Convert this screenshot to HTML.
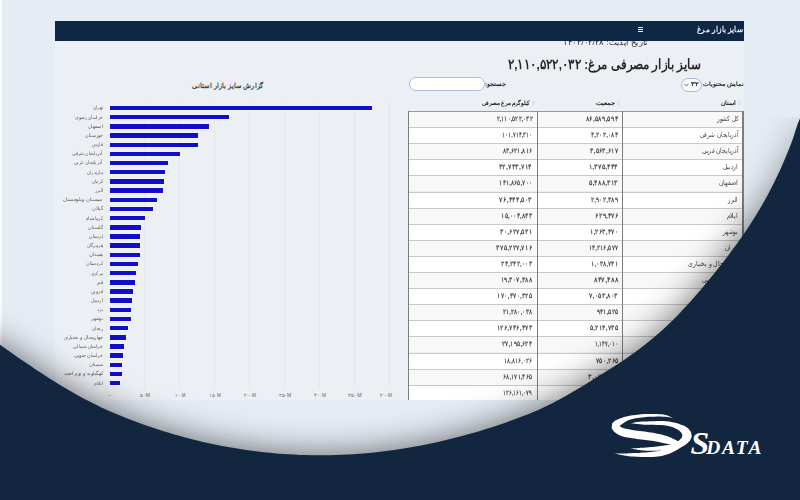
<!DOCTYPE html><html lang="fa"><head><meta charset="utf-8"><title>سایز بازار مرغ</title><style>
*{box-sizing:border-box}html,body{margin:0;padding:0}
body{width:800px;height:500px;overflow:hidden;position:relative;background:#e5ecf4;font-family:"Liberation Sans",sans-serif;color:#333333}
.t{position:absolute;white-space:nowrap;font-size:20px;line-height:20px;direction:rtl}
.a{position:absolute}
</style></head><body>
<div class="a" style="left:0;top:0;width:1.5px;height:346px;background:#fbfcfe"></div>
<div class="a" style="left:55px;top:21px;width:689px;height:378.7px;background:#eceff4"></div>
<div class="a" style="left:55px;top:21px;width:689px;height:19.5px;background:#0e2745;z-index:5"></div>
<div class="a" style="left:638px;top:27.3px;width:5.4px;height:1.1px;background:#e8eef5;z-index:6"></div>
<div class="a" style="left:638px;top:29.3px;width:5.4px;height:1.1px;background:#e8eef5;z-index:6"></div>
<div class="a" style="left:638px;top:31.3px;width:5.4px;height:1.1px;background:#e8eef5;z-index:6"></div>
<div class="a" style="left:144.0px;top:103px;width:0.8px;height:285px;background:#e4e6eb"></div>
<div class="a" style="left:179.0px;top:103px;width:0.8px;height:285px;background:#e4e6eb"></div>
<div class="a" style="left:214.0px;top:103px;width:0.8px;height:285px;background:#e4e6eb"></div>
<div class="a" style="left:249.0px;top:103px;width:0.8px;height:285px;background:#e4e6eb"></div>
<div class="a" style="left:284.0px;top:103px;width:0.8px;height:285px;background:#e4e6eb"></div>
<div class="a" style="left:319.0px;top:103px;width:0.8px;height:285px;background:#e4e6eb"></div>
<div class="a" style="left:354.0px;top:103px;width:0.8px;height:285px;background:#e4e6eb"></div>
<div class="a" style="left:389.0px;top:103px;width:0.8px;height:285px;background:#e4e6eb"></div>
<div class="a" style="left:109.0px;top:103px;width:0.8px;height:286px;background:#f6f7f9"></div>
<div class="a" style="left:109.6px;top:105.90px;width:262.24px;height:4.4px;background:#0f0fc8;box-shadow:0 0 0 0.7px #f7f8fb"></div>
<div class="a" style="left:109.6px;top:115.07px;width:118.93px;height:4.4px;background:#0f0fc8;box-shadow:0 0 0 0.7px #f7f8fb"></div>
<div class="a" style="left:109.6px;top:124.24px;width:98.91px;height:4.4px;background:#0f0fc8;box-shadow:0 0 0 0.7px #f7f8fb"></div>
<div class="a" style="left:109.6px;top:133.41px;width:88.32px;height:4.4px;background:#0f0fc8;box-shadow:0 0 0 0.7px #f7f8fb"></div>
<div class="a" style="left:109.6px;top:142.58px;width:87.91px;height:4.4px;background:#0f0fc8;box-shadow:0 0 0 0.7px #f7f8fb"></div>
<div class="a" style="left:109.6px;top:151.75px;width:70.80px;height:4.4px;background:#0f0fc8;box-shadow:0 0 0 0.7px #f7f8fb"></div>
<div class="a" style="left:109.6px;top:160.92px;width:58.13px;height:4.4px;background:#0f0fc8;box-shadow:0 0 0 0.7px #f7f8fb"></div>
<div class="a" style="left:109.6px;top:170.09px;width:55.81px;height:4.4px;background:#0f0fc8;box-shadow:0 0 0 0.7px #f7f8fb"></div>
<div class="a" style="left:109.6px;top:179.26px;width:54.62px;height:4.4px;background:#0f0fc8;box-shadow:0 0 0 0.7px #f7f8fb"></div>
<div class="a" style="left:109.6px;top:188.43px;width:53.11px;height:4.4px;background:#0f0fc8;box-shadow:0 0 0 0.7px #f7f8fb"></div>
<div class="a" style="left:109.6px;top:197.60px;width:47.32px;height:4.4px;background:#0f0fc8;box-shadow:0 0 0 0.7px #f7f8fb"></div>
<div class="a" style="left:109.6px;top:206.77px;width:43.21px;height:4.4px;background:#0f0fc8;box-shadow:0 0 0 0.7px #f7f8fb"></div>
<div class="a" style="left:109.6px;top:215.94px;width:35.37px;height:4.4px;background:#0f0fc8;box-shadow:0 0 0 0.7px #f7f8fb"></div>
<div class="a" style="left:109.6px;top:225.11px;width:31.38px;height:4.4px;background:#0f0fc8;box-shadow:0 0 0 0.7px #f7f8fb"></div>
<div class="a" style="left:109.6px;top:234.28px;width:30.68px;height:4.4px;background:#0f0fc8;box-shadow:0 0 0 0.7px #f7f8fb"></div>
<div class="a" style="left:109.6px;top:243.45px;width:30.19px;height:4.4px;background:#0f0fc8;box-shadow:0 0 0 0.7px #f7f8fb"></div>
<div class="a" style="left:109.6px;top:252.62px;width:30.12px;height:4.4px;background:#0f0fc8;box-shadow:0 0 0 0.7px #f7f8fb"></div>
<div class="a" style="left:109.6px;top:261.79px;width:28.30px;height:4.4px;background:#0f0fc8;box-shadow:0 0 0 0.7px #f7f8fb"></div>
<div class="a" style="left:109.6px;top:270.96px;width:25.92px;height:4.4px;background:#0f0fc8;box-shadow:0 0 0 0.7px #f7f8fb"></div>
<div class="a" style="left:109.6px;top:280.13px;width:25.43px;height:4.4px;background:#0f0fc8;box-shadow:0 0 0 0.7px #f7f8fb"></div>
<div class="a" style="left:109.6px;top:289.30px;width:22.98px;height:4.4px;background:#0f0fc8;box-shadow:0 0 0 0.7px #f7f8fb"></div>
<div class="a" style="left:109.6px;top:298.47px;width:22.51px;height:4.4px;background:#0f0fc8;box-shadow:0 0 0 0.7px #f7f8fb"></div>
<div class="a" style="left:109.6px;top:307.64px;width:21.65px;height:4.4px;background:#0f0fc8;box-shadow:0 0 0 0.7px #f7f8fb"></div>
<div class="a" style="left:109.6px;top:316.81px;width:21.04px;height:4.4px;background:#0f0fc8;box-shadow:0 0 0 0.7px #f7f8fb"></div>
<div class="a" style="left:109.6px;top:325.98px;width:18.64px;height:4.4px;background:#0f0fc8;box-shadow:0 0 0 0.7px #f7f8fb"></div>
<div class="a" style="left:109.6px;top:335.15px;width:16.57px;height:4.4px;background:#0f0fc8;box-shadow:0 0 0 0.7px #f7f8fb"></div>
<div class="a" style="left:109.6px;top:344.32px;width:14.50px;height:4.4px;background:#0f0fc8;box-shadow:0 0 0 0.7px #f7f8fb"></div>
<div class="a" style="left:109.6px;top:353.49px;width:13.12px;height:4.4px;background:#0f0fc8;box-shadow:0 0 0 0.7px #f7f8fb"></div>
<div class="a" style="left:109.6px;top:362.66px;width:12.77px;height:4.4px;background:#0f0fc8;box-shadow:0 0 0 0.7px #f7f8fb"></div>
<div class="a" style="left:109.6px;top:371.83px;width:11.92px;height:4.4px;background:#0f0fc8;box-shadow:0 0 0 0.7px #f7f8fb"></div>
<div class="a" style="left:109.6px;top:381.00px;width:10.10px;height:4.4px;background:#0f0fc8;box-shadow:0 0 0 0.7px #f7f8fb"></div>
<div class="a" style="left:409px;top:77.3px;width:76.2px;height:13.3px;border:1px solid #a8bde0;border-radius:7px;background:#fff"></div>
<div class="a" style="left:681.2px;top:77.5px;width:21.3px;height:14px;border:1px solid #a8bde0;border-radius:7px;background:#f7f8fa"></div>
<svg class="a" style="left:683.5px;top:82.5px" width="5" height="4" viewBox="0 0 5 4"><path d="M0.6 0.8 L2.5 2.9 L4.4 0.8" fill="none" stroke="#333" stroke-width="0.7"/></svg>
<svg class="a" style="left:532.3px;top:99.5px" width="3" height="6" viewBox="0 0 3 6"><path d="M1.5 0.3 L2.8 2.4 L0.2 2.4Z M1.5 5.7 L2.8 3.6 L0.2 3.6Z" fill="#d3d6db"/></svg>
<svg class="a" style="left:616.5px;top:99.5px" width="3" height="6" viewBox="0 0 3 6"><path d="M1.5 0.3 L2.8 2.4 L0.2 2.4Z M1.5 5.7 L2.8 3.6 L0.2 3.6Z" fill="#d3d6db"/></svg>
<svg class="a" style="left:737.5px;top:99.5px" width="3" height="6" viewBox="0 0 3 6"><path d="M1.5 0.3 L2.8 2.4 L0.2 2.4Z M1.5 5.7 L2.8 3.6 L0.2 3.6Z" fill="#d3d6db"/></svg>
<div class="a" style="left:408.0px;top:111.0px;width:335.6px;height:288.7px;overflow:hidden">
<div class="a" style="left:0;top:0.0px;width:100%;height:16.1px;background:#f8f8f8;border-top:1px solid #9a9a9a"></div>
<div class="a" style="left:0;top:16.1px;width:100%;height:16.1px;background:#ffffff;border-top:1px solid #c9c9c9"></div>
<div class="a" style="left:0;top:32.2px;width:100%;height:16.1px;background:#f8f8f8;border-top:1px solid #c9c9c9"></div>
<div class="a" style="left:0;top:48.3px;width:100%;height:16.1px;background:#ffffff;border-top:1px solid #c9c9c9"></div>
<div class="a" style="left:0;top:64.4px;width:100%;height:16.1px;background:#f8f8f8;border-top:1px solid #c9c9c9"></div>
<div class="a" style="left:0;top:80.5px;width:100%;height:16.1px;background:#ffffff;border-top:1px solid #c9c9c9"></div>
<div class="a" style="left:0;top:96.6px;width:100%;height:16.1px;background:#f8f8f8;border-top:1px solid #c9c9c9"></div>
<div class="a" style="left:0;top:112.7px;width:100%;height:16.1px;background:#ffffff;border-top:1px solid #c9c9c9"></div>
<div class="a" style="left:0;top:128.8px;width:100%;height:16.1px;background:#f8f8f8;border-top:1px solid #c9c9c9"></div>
<div class="a" style="left:0;top:144.9px;width:100%;height:16.1px;background:#ffffff;border-top:1px solid #c9c9c9"></div>
<div class="a" style="left:0;top:161.0px;width:100%;height:16.1px;background:#f8f8f8;border-top:1px solid #c9c9c9"></div>
<div class="a" style="left:0;top:177.1px;width:100%;height:16.1px;background:#ffffff;border-top:1px solid #c9c9c9"></div>
<div class="a" style="left:0;top:193.2px;width:100%;height:16.1px;background:#f8f8f8;border-top:1px solid #c9c9c9"></div>
<div class="a" style="left:0;top:209.3px;width:100%;height:16.1px;background:#ffffff;border-top:1px solid #c9c9c9"></div>
<div class="a" style="left:0;top:225.4px;width:100%;height:16.1px;background:#f8f8f8;border-top:1px solid #c9c9c9"></div>
<div class="a" style="left:0;top:241.5px;width:100%;height:16.1px;background:#ffffff;border-top:1px solid #c9c9c9"></div>
<div class="a" style="left:0;top:257.6px;width:100%;height:16.1px;background:#f8f8f8;border-top:1px solid #c9c9c9"></div>
<div class="a" style="left:0;top:273.7px;width:100%;height:16.1px;background:#ffffff;border-top:1px solid #c9c9c9"></div>
<div class="a" style="left:0.0px;top:0;width:1.3px;height:100%;background:#7d7d7d"></div>
<div class="a" style="left:129.0px;top:0;width:1.0px;height:100%;background:#7d7d7d"></div>
<div class="a" style="left:214.0px;top:0;width:1.0px;height:100%;background:#7d7d7d"></div>
<div class="a" style="left:334.1px;top:0;width:1.5px;height:100%;background:#7d7d7d"></div>
</div>
<div class="t" style="top:15.27px;font-weight:700;color:#eef2f7;z-index:6;right:57.30px;transform-origin:100% 16.93px;transform:scale(0.3755,0.4085)">سایز بازار مرغ</div>
<div class="t" style="top:27.67px;color:#2a2a2a;z-index:3;right:152.70px;transform-origin:100% 16.93px;transform:scale(0.4111,0.3966)">تاریخ آپدیت: ۱۴۰۲/۰۲/۲۸</div>
<div class="t" style="top:52.27px;font-weight:700;color:#262626;right:99.20px;transform-origin:100% 16.93px;transform:scale(0.5779,0.6800)">سایز بازار مصرفی مرغ: ۲,۱۱۰,۵۲۲,۰۳۲</div>
<div class="t" style="top:69.37px;font-weight:700;color:#222;right:56.50px;transform-origin:100% 16.93px;transform:scale(0.3040,0.2898)">نمایش محتویات</div>
<div class="t" style="top:69.37px;font-weight:700;color:#222;right:101.00px;transform-origin:100% 16.93px;transform:scale(0.3677,0.3135)">۳۲</div>
<div class="t" style="top:69.07px;font-weight:700;color:#222;right:294.60px;transform-origin:100% 16.93px;transform:scale(0.3142,0.2945)">جستجو:</div>
<div class="t" style="top:87.67px;font-weight:700;color:#222;right:270.00px;transform-origin:100% 16.93px;transform:scale(0.2728,0.2898)">کیلوگرم مرغ مصرفی</div>
<div class="t" style="top:87.67px;font-weight:700;color:#222;right:185.50px;transform-origin:100% 16.93px;transform:scale(0.3249,0.2898)">جمعیت</div>
<div class="t" style="top:87.67px;font-weight:700;color:#222;right:64.50px;transform-origin:100% 16.93px;transform:scale(0.3039,0.2898)">استان</div>
<div class="t" style="top:70.77px;font-weight:700;color:#27474c;left:227.50px;transform-origin:0 16.93px;transform:scale(0.3328,0.3586) translateX(-50%)">گزارش سایز بازار استانی</div>
<div class="t" style="top:104.07px;font-weight:700;color:#454545;right:267.70px;transform-origin:100% 16.93px;transform:scale(0.2851,0.3700)">۲,۱۱۰,۵۲۲,۰۳۲</div>
<div class="t" style="top:104.07px;font-weight:700;color:#454545;right:181.80px;transform-origin:100% 16.93px;transform:scale(0.3271,0.3700)">۸۶,۵۸۹,۵۹۴</div>
<div class="t" style="top:104.07px;color:#454545;right:61.80px;transform-origin:100% 16.93px;transform:scale(0.2755,0.3450)">کل کشور</div>
<div class="t" style="top:120.17px;font-weight:700;color:#454545;right:267.70px;transform-origin:100% 16.93px;transform:scale(0.2696,0.3700)">۱۰۱,۷۱۴,۳۱۰</div>
<div class="t" style="top:120.17px;font-weight:700;color:#454545;right:181.80px;transform-origin:100% 16.93px;transform:scale(0.3090,0.3700)">۴,۲۰۲,۰۸۴</div>
<div class="t" style="top:120.17px;color:#454545;right:61.80px;transform-origin:100% 16.93px;transform:scale(0.2830,0.3450)">آذربایجان شرقی</div>
<div class="t" style="top:136.27px;font-weight:700;color:#454545;right:267.70px;transform-origin:100% 16.93px;transform:scale(0.2954,0.3700)">۸۳,۶۲۱,۸۱۶</div>
<div class="t" style="top:136.27px;font-weight:700;color:#454545;right:181.80px;transform-origin:100% 16.93px;transform:scale(0.3154,0.3700)">۳,۵۶۳,۶۱۷</div>
<div class="t" style="top:136.27px;color:#454545;right:61.80px;transform-origin:100% 16.93px;transform:scale(0.2919,0.3450)">آذربایجان غربی</div>
<div class="t" style="top:152.37px;font-weight:700;color:#454545;right:267.70px;transform-origin:100% 16.93px;transform:scale(0.3380,0.3700)">۳۲,۷۳۳,۷۱۴</div>
<div class="t" style="top:152.37px;font-weight:700;color:#454545;right:181.80px;transform-origin:100% 16.93px;transform:scale(0.3339,0.3700)">۱,۳۷۵,۴۴۴</div>
<div class="t" style="top:152.37px;color:#454545;right:61.80px;transform-origin:100% 16.93px;transform:scale(0.2920,0.3450)">اردبیل</div>
<div class="t" style="top:168.47px;font-weight:700;color:#454545;right:267.70px;transform-origin:100% 16.93px;transform:scale(0.2978,0.3700)">۱۴۱,۸۶۵,۷۰۰</div>
<div class="t" style="top:168.47px;font-weight:700;color:#454545;right:181.80px;transform-origin:100% 16.93px;transform:scale(0.3314,0.3700)">۵,۴۸۸,۳۱۳</div>
<div class="t" style="top:168.47px;color:#454545;right:61.80px;transform-origin:100% 16.93px;transform:scale(0.3066,0.3450)">اصفهان</div>
<div class="t" style="top:184.57px;font-weight:700;color:#454545;right:267.70px;transform-origin:100% 16.93px;transform:scale(0.3294,0.3700)">۷۶,۴۴۴,۵۰۳</div>
<div class="t" style="top:184.57px;font-weight:700;color:#454545;right:181.80px;transform-origin:100% 16.93px;transform:scale(0.3082,0.3700)">۲,۹۰۲,۳۸۹</div>
<div class="t" style="top:184.57px;color:#454545;right:61.80px;transform-origin:100% 16.93px;transform:scale(0.2557,0.3450)">البرز</div>
<div class="t" style="top:200.67px;font-weight:700;color:#454545;right:267.70px;transform-origin:100% 16.93px;transform:scale(0.3119,0.3700)">۱۵,۰۰۴,۸۴۳</div>
<div class="t" style="top:200.67px;font-weight:700;color:#454545;right:181.80px;transform-origin:100% 16.93px;transform:scale(0.3232,0.3700)">۶۲۹,۴۷۶</div>
<div class="t" style="top:200.67px;color:#454545;right:61.80px;transform-origin:100% 16.93px;transform:scale(0.3148,0.3450)">ایلام</div>
<div class="t" style="top:216.77px;font-weight:700;color:#454545;right:267.70px;transform-origin:100% 16.93px;transform:scale(0.3219,0.3700)">۳۰,۶۲۷,۵۳۱</div>
<div class="t" style="top:216.77px;font-weight:700;color:#454545;right:181.80px;transform-origin:100% 16.93px;transform:scale(0.3188,0.3700)">۱,۲۶۳,۴۷۰</div>
<div class="t" style="top:216.77px;color:#454545;right:61.80px;transform-origin:100% 16.93px;transform:scale(0.2859,0.3450)">بوشهر</div>
<div class="t" style="top:232.87px;font-weight:700;color:#454545;right:267.70px;transform-origin:100% 16.93px;transform:scale(0.3236,0.3700)">۳۷۵,۲۲۷,۷۱۶</div>
<div class="t" style="top:232.87px;font-weight:700;color:#454545;right:181.80px;transform-origin:100% 16.93px;transform:scale(0.2981,0.3700)">۱۴,۲۱۶,۵۷۷</div>
<div class="t" style="top:232.87px;color:#454545;right:61.80px;transform-origin:100% 16.93px;transform:scale(0.2813,0.3450)">تهران</div>
<div class="t" style="top:248.97px;font-weight:700;color:#454545;right:267.70px;transform-origin:100% 16.93px;transform:scale(0.3125,0.3700)">۲۴,۲۴۲,۰۰۳</div>
<div class="t" style="top:248.97px;font-weight:700;color:#454545;right:181.80px;transform-origin:100% 16.93px;transform:scale(0.3057,0.3700)">۱,۰۳۸,۷۴۱</div>
<div class="t" style="top:248.97px;color:#454545;right:61.80px;transform-origin:100% 16.93px;transform:scale(0.3011,0.3450)">چهارمحال و بختیاری</div>
<div class="t" style="top:265.07px;font-weight:700;color:#454545;right:267.70px;transform-origin:100% 16.93px;transform:scale(0.3166,0.3700)">۱۹,۳۰۷,۴۸۸</div>
<div class="t" style="top:265.07px;font-weight:700;color:#454545;right:181.80px;transform-origin:100% 16.93px;transform:scale(0.3453,0.3700)">۸۴۷,۴۸۸</div>
<div class="t" style="top:265.07px;color:#454545;right:61.80px;transform-origin:100% 16.93px;transform:scale(0.2944,0.3450)">خراسان جنوبی</div>
<div class="t" style="top:281.17px;font-weight:700;color:#454545;right:267.70px;transform-origin:100% 16.93px;transform:scale(0.3148,0.3700)">۱۷۰,۴۷۰,۳۲۵</div>
<div class="t" style="top:281.17px;font-weight:700;color:#454545;right:181.80px;transform-origin:100% 16.93px;transform:scale(0.3294,0.3700)">۷,۰۵۳,۸۰۳</div>
<div class="t" style="top:281.17px;color:#454545;right:61.80px;transform-origin:100% 16.93px;transform:scale(0.2782,0.3450)">خراسان رضوی</div>
<div class="t" style="top:297.27px;font-weight:700;color:#454545;right:267.70px;transform-origin:100% 16.93px;transform:scale(0.2981,0.3700)">۲۱,۲۸۰,۰۳۸</div>
<div class="t" style="top:297.27px;font-weight:700;color:#454545;right:181.80px;transform-origin:100% 16.93px;transform:scale(0.3054,0.3700)">۹۴۱,۵۲۵</div>
<div class="t" style="top:297.27px;color:#454545;right:61.80px;transform-origin:100% 16.93px;transform:scale(0.2840,0.3450)">خراسان شمالی</div>
<div class="t" style="top:313.37px;font-weight:700;color:#454545;right:267.70px;transform-origin:100% 16.93px;transform:scale(0.3213,0.3700)">۱۲۶,۷۴۶,۴۷۳</div>
<div class="t" style="top:313.37px;font-weight:700;color:#454545;right:181.80px;transform-origin:100% 16.93px;transform:scale(0.3216,0.3700)">۵,۲۱۴,۷۳۵</div>
<div class="t" style="top:313.37px;color:#454545;right:61.80px;transform-origin:100% 16.93px;transform:scale(0.2942,0.3450)">خوزستان</div>
<div class="t" style="top:329.47px;font-weight:700;color:#454545;right:267.70px;transform-origin:100% 16.93px;transform:scale(0.3044,0.3700)">۲۷,۱۹۵,۶۲۴</div>
<div class="t" style="top:329.47px;font-weight:700;color:#454545;right:181.80px;transform-origin:100% 16.93px;transform:scale(0.2631,0.3700)">۱,۱۴۷,۰۱۰</div>
<div class="t" style="top:329.47px;color:#454545;right:61.80px;transform-origin:100% 16.93px;transform:scale(0.2847,0.3450)">زنجان</div>
<div class="t" style="top:345.57px;font-weight:700;color:#454545;right:267.70px;transform-origin:100% 16.93px;transform:scale(0.2847,0.3700)">۱۸,۸۱۶,۰۲۶</div>
<div class="t" style="top:345.57px;font-weight:700;color:#454545;right:181.80px;transform-origin:100% 16.93px;transform:scale(0.3187,0.3700)">۷۵۰,۲۶۵</div>
<div class="t" style="top:345.57px;color:#454545;right:61.80px;transform-origin:100% 16.93px;transform:scale(0.3100,0.3450)">سمنان</div>
<div class="t" style="top:361.67px;font-weight:700;color:#454545;right:267.70px;transform-origin:100% 16.93px;transform:scale(0.2941,0.3700)">۶۸,۱۷۱,۴۶۵</div>
<div class="t" style="top:361.67px;font-weight:700;color:#454545;right:181.80px;transform-origin:100% 16.93px;transform:scale(0.3369,0.3700)">۳,۰۷۷,۷۸۰</div>
<div class="t" style="top:361.67px;color:#454545;right:61.80px;transform-origin:100% 16.93px;transform:scale(0.3111,0.3450)">سیستان و بلوچستان</div>
<div class="t" style="top:377.77px;font-weight:700;color:#454545;right:267.70px;transform-origin:100% 16.93px;transform:scale(0.2622,0.3700)">۱۲۶,۱۶۱,۰۷۹</div>
<div class="t" style="top:377.77px;font-weight:700;color:#454545;right:181.80px;transform-origin:100% 16.93px;transform:scale(0.3169,0.3700)">۴,۸۵۱,۲۷۴</div>
<div class="t" style="top:377.77px;color:#454545;right:61.80px;transform-origin:100% 16.93px;transform:scale(0.2785,0.3450)">فارس</div>
<div class="t" style="top:92.47px;color:#5f5f5f;right:697.00px;transform-origin:100% 16.93px;transform:scale(0.2210,0.2351)">تهران</div>
<div class="t" style="top:101.64px;color:#5f5f5f;right:697.00px;transform-origin:100% 16.93px;transform:scale(0.2186,0.2351)">خراسان رضوی</div>
<div class="t" style="top:110.81px;color:#5f5f5f;right:697.00px;transform-origin:100% 16.93px;transform:scale(0.2409,0.2351)">اصفهان</div>
<div class="t" style="top:119.98px;color:#5f5f5f;right:697.00px;transform-origin:100% 16.93px;transform:scale(0.2311,0.2351)">خوزستان</div>
<div class="t" style="top:129.15px;color:#5f5f5f;right:697.00px;transform-origin:100% 16.93px;transform:scale(0.2188,0.2351)">فارس</div>
<div class="t" style="top:138.32px;color:#5f5f5f;right:697.00px;transform-origin:100% 16.93px;transform:scale(0.2223,0.2351)">آذربایجان شرقی</div>
<div class="t" style="top:147.49px;color:#5f5f5f;right:697.00px;transform-origin:100% 16.93px;transform:scale(0.2293,0.2351)">آذربایجان غربی</div>
<div class="t" style="top:156.66px;color:#5f5f5f;right:697.00px;transform-origin:100% 16.93px;transform:scale(0.2135,0.2351)">مازندران</div>
<div class="t" style="top:165.83px;color:#5f5f5f;right:697.00px;transform-origin:100% 16.93px;transform:scale(0.2113,0.2351)">کرمان</div>
<div class="t" style="top:175.00px;color:#5f5f5f;right:697.00px;transform-origin:100% 16.93px;transform:scale(0.2009,0.2351)">البرز</div>
<div class="t" style="top:184.17px;color:#5f5f5f;right:697.00px;transform-origin:100% 16.93px;transform:scale(0.2446,0.2351)">سیستان وبلوچستان</div>
<div class="t" style="top:193.34px;color:#5f5f5f;right:697.00px;transform-origin:100% 16.93px;transform:scale(0.2453,0.2351)">گیلان</div>
<div class="t" style="top:202.51px;color:#5f5f5f;right:697.00px;transform-origin:100% 16.93px;transform:scale(0.2175,0.2351)">کرمانشاه</div>
<div class="t" style="top:211.68px;color:#5f5f5f;right:697.00px;transform-origin:100% 16.93px;transform:scale(0.2394,0.2351)">گلستان</div>
<div class="t" style="top:220.85px;color:#5f5f5f;right:697.00px;transform-origin:100% 16.93px;transform:scale(0.2240,0.2351)">لرستان</div>
<div class="t" style="top:230.02px;color:#5f5f5f;right:697.00px;transform-origin:100% 16.93px;transform:scale(0.2180,0.2351)">هرمزگان</div>
<div class="t" style="top:239.19px;color:#5f5f5f;right:697.00px;transform-origin:100% 16.93px;transform:scale(0.2587,0.2351)">همدان</div>
<div class="t" style="top:248.36px;color:#5f5f5f;right:697.00px;transform-origin:100% 16.93px;transform:scale(0.2265,0.2351)">کردستان</div>
<div class="t" style="top:257.53px;color:#5f5f5f;right:697.00px;transform-origin:100% 16.93px;transform:scale(0.2044,0.2351)">مرکزی</div>
<div class="t" style="top:266.70px;color:#5f5f5f;right:697.00px;transform-origin:100% 16.93px;transform:scale(0.2436,0.2351)">قم</div>
<div class="t" style="top:275.87px;color:#5f5f5f;right:697.00px;transform-origin:100% 16.93px;transform:scale(0.2314,0.2351)">قزوین</div>
<div class="t" style="top:285.04px;color:#5f5f5f;right:697.00px;transform-origin:100% 16.93px;transform:scale(0.2294,0.2351)">اردبیل</div>
<div class="t" style="top:294.21px;color:#5f5f5f;right:697.00px;transform-origin:100% 16.93px;transform:scale(0.2177,0.2351)">یزد</div>
<div class="t" style="top:303.38px;color:#5f5f5f;right:697.00px;transform-origin:100% 16.93px;transform:scale(0.2246,0.2351)">بوشهر</div>
<div class="t" style="top:312.55px;color:#5f5f5f;right:697.00px;transform-origin:100% 16.93px;transform:scale(0.2237,0.2351)">زنجان</div>
<div class="t" style="top:321.72px;color:#5f5f5f;right:697.00px;transform-origin:100% 16.93px;transform:scale(0.2366,0.2351)">چهارمحال و بختیاری</div>
<div class="t" style="top:330.89px;color:#5f5f5f;right:697.00px;transform-origin:100% 16.93px;transform:scale(0.2231,0.2351)">خراسان شمالی</div>
<div class="t" style="top:340.06px;color:#5f5f5f;right:697.00px;transform-origin:100% 16.93px;transform:scale(0.2313,0.2351)">خراسان جنوبی</div>
<div class="t" style="top:349.23px;color:#5f5f5f;right:697.00px;transform-origin:100% 16.93px;transform:scale(0.2436,0.2351)">سمنان</div>
<div class="t" style="top:358.40px;color:#5f5f5f;right:697.00px;transform-origin:100% 16.93px;transform:scale(0.2374,0.2351)">کهگیلویه و بویراحمد</div>
<div class="t" style="top:367.57px;color:#5f5f5f;right:697.00px;transform-origin:100% 16.93px;transform:scale(0.2473,0.2351)">ایلام</div>
<div class="t" style="top:380.27px;color:#5f5f5f;left:109.60px;transform-origin:0 16.93px;transform:scale(0.6375,0.2422) translateX(-50%)">۰</div>
<div class="t" style="top:380.27px;color:#5f5f5f;left:144.60px;transform-origin:0 16.93px;transform:scale(0.2495,0.2422) translateX(-50%)">۵۰M</div>
<div class="t" style="top:380.27px;color:#5f5f5f;left:179.60px;transform-origin:0 16.93px;transform:scale(0.2133,0.2422) translateX(-50%)">۱۰۰M</div>
<div class="t" style="top:380.27px;color:#5f5f5f;left:214.60px;transform-origin:0 16.93px;transform:scale(0.2324,0.2422) translateX(-50%)">۱۵۰M</div>
<div class="t" style="top:380.27px;color:#5f5f5f;left:249.60px;transform-origin:0 16.93px;transform:scale(0.2307,0.2422) translateX(-50%)">۲۰۰M</div>
<div class="t" style="top:380.27px;color:#5f5f5f;left:284.60px;transform-origin:0 16.93px;transform:scale(0.2490,0.2422) translateX(-50%)">۲۵۰M</div>
<div class="t" style="top:380.27px;color:#5f5f5f;left:319.60px;transform-origin:0 16.93px;transform:scale(0.2444,0.2422) translateX(-50%)">۳۰۰M</div>
<div class="t" style="top:380.27px;color:#5f5f5f;left:354.60px;transform-origin:0 16.93px;transform:scale(0.2626,0.2422) translateX(-50%)">۳۵۰M</div>
<div class="t" style="top:380.27px;color:#5f5f5f;left:385.50px;transform-origin:0 16.93px;transform:scale(0.2359,0.2422) translateX(-50%)">۴۰۰M</div>
<svg class="a" style="left:0;top:0;z-index:20" width="800" height="500" viewBox="0 0 800 500">
<defs><filter id="bl" x="-20%" y="-20%" width="140%" height="140%"><feGaussianBlur stdDeviation="17"/></filter><clipPath id="cp"><rect x="0" y="117" width="800" height="400"/></clipPath><linearGradient id="mg" gradientUnits="userSpaceOnUse" x1="0" y1="117" x2="0" y2="240"><stop offset="0" stop-color="#fff" stop-opacity="0.3"/><stop offset="1" stop-color="#fff" stop-opacity="1"/></linearGradient><mask id="mk" maskUnits="userSpaceOnUse" x="0" y="0" width="800" height="500"><rect x="0" y="0" width="800" height="500" fill="url(#mg)"/></mask></defs>
<g clip-path="url(#cp)" mask="url(#mk)"><path d="M-60 330 L0 345.5 L6.0 349.07 L12.0 353.26 L18.0 357.42 L24.0 361.54 L30.0 365.61 L36.0 369.63 L42.0 373.58 L48.0 377.45 L54.0 381.24 L60.0 384.95 L66.0 388.55 L72.0 392.04 L78.0 395.41 L84.0 398.65 L90.0 401.77 L96.0 404.76 L102.0 407.64 L108.0 410.40 L114.0 413.04 L120.0 415.59 L126.0 418.03 L132.0 420.37 L138.0 422.62 L144.0 424.78 L150.0 426.85 L156.0 428.85 L162.0 430.77 L168.0 432.61 L174.0 434.38 L180.0 436.08 L186.0 437.70 L192.0 439.26 L198.0 440.73 L204.0 442.14 L210.0 443.48 L216.0 444.74 L222.0 445.93 L228.0 447.04 L234.0 448.09 L240.0 449.06 L246.0 449.97 L252.0 450.80 L258.0 451.56 L264.0 452.24 L270.0 452.86 L276.0 453.41 L282.0 453.88 L288.0 454.29 L294.0 454.62 L300.0 454.89 L306.0 455.08 L312.0 455.21 L318.0 455.26 L324.0 455.25 L330.0 455.16 L336.0 455.01 L342.0 454.79 L348.0 454.49 L354.0 454.13 L360.0 453.70 L366.0 453.20 L372.0 452.64 L378.0 452.00 L384.0 451.30 L390.0 450.53 L396.0 449.69 L402.0 448.78 L408.0 447.81 L414.0 446.76 L420.0 445.65 L426.0 444.48 L432.0 443.23 L438.0 441.92 L444.0 440.54 L450.0 439.10 L456.0 437.59 L462.0 436.01 L468.0 434.37 L474.0 432.66 L480.0 430.89 L486.0 429.05 L492.0 427.14 L498.0 425.17 L504.0 423.13 L510.0 421.03 L516.0 418.86 L522.0 416.61 L528.0 414.25 L534.0 411.77 L540.0 409.15 L546.0 406.36 L552.0 403.40 L558.0 400.25 L564.0 396.95 L570.0 393.52 L576.0 389.99 L582.0 386.38 L588.0 382.73 L594.0 379.06 L600.0 375.36 L606.0 371.62 L612.0 367.81 L618.0 363.91 L624.0 359.89 L630.0 355.74 L636.0 351.43 L642.0 346.93 L648.0 342.24 L654.0 337.31 L660.0 332.13 L666.0 326.68 L672.0 320.94 L678.0 314.90 L684.0 308.58 L690.0 302.01 L696.0 295.21 L702.0 288.21 L708.0 281.04 L714.0 273.72 L720.0 266.23 L726.0 258.53 L732.0 250.56 L738.0 242.30 L744.0 233.68 L750.0 224.68 L756.0 215.22 L762.0 205.18 L768.0 194.42 L774.0 182.79 L780.0 170.14 L782.0 165.67 L784.0 161.07 L786.0 156.33 L788.0 151.45 L790.0 146.41 L792.0 141.17 L794.0 135.42 L796.0 129.06 L798.0 122.97 L800.0 118.40 L860 117.5 L860 560 L-60 560 Z" fill="#000" fill-opacity="0.58" filter="url(#bl)"/></g>
<path d="M0.0 344.86 L6.0 349.07 L12.0 353.26 L18.0 357.42 L24.0 361.54 L30.0 365.61 L36.0 369.63 L42.0 373.58 L48.0 377.45 L54.0 381.24 L60.0 384.95 L66.0 388.55 L72.0 392.04 L78.0 395.41 L84.0 398.65 L90.0 401.77 L96.0 404.76 L102.0 407.64 L108.0 410.40 L114.0 413.04 L120.0 415.59 L126.0 418.03 L132.0 420.37 L138.0 422.62 L144.0 424.78 L150.0 426.85 L156.0 428.85 L162.0 430.77 L168.0 432.61 L174.0 434.38 L180.0 436.08 L186.0 437.70 L192.0 439.26 L198.0 440.73 L204.0 442.14 L210.0 443.48 L216.0 444.74 L222.0 445.93 L228.0 447.04 L234.0 448.09 L240.0 449.06 L246.0 449.97 L252.0 450.80 L258.0 451.56 L264.0 452.24 L270.0 452.86 L276.0 453.41 L282.0 453.88 L288.0 454.29 L294.0 454.62 L300.0 454.89 L306.0 455.08 L312.0 455.21 L318.0 455.26 L324.0 455.25 L330.0 455.16 L336.0 455.01 L342.0 454.79 L348.0 454.49 L354.0 454.13 L360.0 453.70 L366.0 453.20 L372.0 452.64 L378.0 452.00 L384.0 451.30 L390.0 450.53 L396.0 449.69 L402.0 448.78 L408.0 447.81 L414.0 446.76 L420.0 445.65 L426.0 444.48 L432.0 443.23 L438.0 441.92 L444.0 440.54 L450.0 439.10 L456.0 437.59 L462.0 436.01 L468.0 434.37 L474.0 432.66 L480.0 430.89 L486.0 429.05 L492.0 427.14 L498.0 425.17 L504.0 423.13 L510.0 421.03 L516.0 418.86 L522.0 416.61 L528.0 414.25 L534.0 411.77 L540.0 409.15 L546.0 406.36 L552.0 403.40 L558.0 400.25 L564.0 396.95 L570.0 393.52 L576.0 389.99 L582.0 386.38 L588.0 382.73 L594.0 379.06 L600.0 375.36 L606.0 371.62 L612.0 367.81 L618.0 363.91 L624.0 359.89 L630.0 355.74 L636.0 351.43 L642.0 346.93 L648.0 342.24 L654.0 337.31 L660.0 332.13 L666.0 326.68 L672.0 320.94 L678.0 314.90 L684.0 308.58 L690.0 302.01 L696.0 295.21 L702.0 288.21 L708.0 281.04 L714.0 273.72 L720.0 266.23 L726.0 258.53 L732.0 250.56 L738.0 242.30 L744.0 233.68 L750.0 224.68 L756.0 215.22 L762.0 205.18 L768.0 194.42 L774.0 182.79 L780.0 170.14 L782.0 165.67 L784.0 161.07 L786.0 156.33 L788.0 151.45 L790.0 146.41 L792.0 141.17 L794.0 135.42 L796.0 129.06 L798.0 122.97 L800.0 118.40 L800 500 L0 500 Z" fill="#12263f"/>
<g fill="#ffffff">
<path d="M673.50 418.60 L671.63 417.40 L669.67 416.39 L667.63 415.56 L665.51 414.94 L663.35 414.57 L661.16 414.32 L658.98 414.14 L656.80 414.02 L654.63 413.96 L652.46 413.93 L650.29 413.92 L648.12 413.94 L645.96 414.00 L643.80 414.10 L641.63 414.24 L639.46 414.42 L637.28 414.65 L635.09 414.90 L632.87 415.18 L630.65 415.53 L628.45 415.99 L626.30 416.56 L624.17 417.11 L622.06 417.80 L619.90 418.62 L617.55 419.55 L614.85 420.83 L612.12 423.39 L611.71 428.33 L613.85 431.52 L616.38 433.60 L618.93 435.10 L621.41 436.08 L623.71 436.73 L625.87 437.20 L628.04 437.61 L630.21 437.97 L632.39 438.30 L634.58 438.60 L636.76 438.88 L638.93 439.15 L641.08 439.42 L643.22 439.68 L645.35 439.93 L647.47 440.20 L649.57 440.48 L651.65 440.78 L653.72 441.11 L655.78 441.46 L657.82 441.84 L659.85 442.26 L661.86 442.71 L663.85 443.20 L665.86 443.60 L667.87 444.04 L669.87 444.53 L671.87 445.08 L673.85 445.68 L675.83 446.36 L678.17 441.24 L676.17 440.17 L674.15 439.16 L672.11 438.21 L670.05 437.33 L667.98 436.49 L665.88 435.72 L663.74 435.14 L661.59 434.60 L659.43 434.11 L657.27 433.65 L655.11 433.23 L652.94 432.84 L650.77 432.48 L648.60 432.14 L646.43 431.82 L644.26 431.51 L642.09 431.23 L639.93 430.97 L637.79 430.70 L635.66 430.43 L633.57 430.14 L631.50 429.83 L629.48 429.49 L627.49 429.11 L625.55 428.70 L623.82 428.29 L622.32 427.76 L620.93 427.01 L619.72 425.94 L619.40 425.49 L619.14 426.94 L619.20 426.44 L620.66 425.04 L622.58 423.64 L624.35 422.43 L626.00 421.38 L627.66 420.46 L629.50 419.80 L631.46 419.22 L633.51 418.73 L635.60 418.29 L637.72 417.94 L639.82 417.64 L641.92 417.38 L644.02 417.17 L646.12 416.99 L648.23 416.86 L650.35 416.76 L652.48 416.68 L654.62 416.63 L656.77 416.59 L658.91 416.55 L661.03 416.56 L663.13 416.65 L665.21 416.84 L667.28 417.04 L669.36 417.36 L671.43 417.86 L673.50 418.60Z"/>
<path d="M630.40 423.60 L632.80 423.56 L635.17 423.72 L637.52 423.99 L639.87 424.27 L642.25 424.57 L644.65 424.72 L647.05 424.78 L649.45 424.82 L651.83 424.84 L654.21 424.86 L656.58 424.90 L658.93 424.97 L661.25 425.08 L663.55 425.27 L665.82 425.56 L668.06 425.96 L670.27 426.48 L672.43 427.11 L674.50 427.98 L676.51 428.97 L678.46 430.06 L680.15 431.39 L681.40 432.76 L682.15 434.16 L682.29 435.31 L682.12 435.45 L682.29 436.19 L681.74 437.62 L680.58 438.98 L679.01 440.39 L677.13 441.83 L675.21 443.21 L673.31 444.55 L671.42 445.81 L669.49 446.97 L667.53 448.03 L665.53 448.96 L663.50 449.74 L661.40 450.36 L659.22 450.85 L656.99 451.24 L654.71 451.55 L652.38 451.79 L650.03 451.99 L647.66 452.22 L645.30 452.43 L642.94 452.62 L640.58 452.79 L638.23 452.92 L635.87 453.03 L633.52 453.12 L631.16 453.17 L628.80 453.27 L626.44 453.39 L624.06 453.48 L621.69 453.54 L619.30 453.56 L616.90 453.55 L614.50 453.50 L614.50 453.50 L616.85 454.02 L619.21 454.51 L621.57 454.97 L623.93 455.39 L626.30 455.78 L628.68 456.13 L631.07 456.40 L633.46 456.57 L635.85 456.71 L638.25 456.82 L640.65 456.91 L643.06 456.97 L645.47 457.00 L647.89 457.01 L650.31 456.99 L652.75 456.88 L655.21 456.73 L657.68 456.50 L660.16 456.17 L662.65 455.71 L665.13 455.09 L667.59 454.32 L669.99 453.41 L672.31 452.36 L674.57 451.20 L676.74 449.98 L678.85 448.73 L680.89 447.48 L682.97 446.30 L685.26 444.94 L687.65 443.07 L690.03 440.52 L691.80 436.75 L691.09 432.24 L688.87 429.09 L686.25 426.96 L683.58 425.60 L681.05 424.70 L678.65 423.84 L676.21 423.11 L673.75 422.54 L671.29 421.98 L668.82 421.57 L666.34 421.28 L663.87 421.10 L661.41 421.02 L658.97 421.02 L656.56 421.07 L654.16 421.16 L651.77 421.26 L649.40 421.36 L647.03 421.45 L644.67 421.51 L642.31 421.60 L639.92 421.79 L637.52 422.01 L635.11 422.37 L632.73 422.89 L630.40 423.60Z"/>
<path d="M630.50 448.50 L631.25 448.64 L632.00 448.78 L632.75 448.92 L633.50 449.06 L634.26 449.20 L635.01 449.33 L635.76 449.46 L636.52 449.58 L637.27 449.71 L638.03 449.83 L638.79 449.95 L639.55 450.06 L640.31 450.16 L641.07 450.24 L641.83 450.31 L642.59 450.38 L643.36 450.45 L644.12 450.51 L644.88 450.57 L645.65 450.63 L646.42 450.68 L647.18 450.73 L647.95 450.77 L648.72 450.81 L649.49 450.85 L650.26 450.87 L651.02 450.87 L651.79 450.86 L652.56 450.85 L653.33 450.83 L654.10 450.81 L654.87 450.78 L655.64 450.75 L656.41 450.72 L657.18 450.68 L657.95 450.63 L658.72 450.58 L659.49 450.53 L660.26 450.47 L661.02 450.39 L661.79 450.30 L662.55 450.20 L663.32 450.10 L664.08 450.00 L664.84 449.89 L665.60 449.78 L666.36 449.67 L667.11 449.55 L667.87 449.44 L668.62 449.30 L669.37 449.15 L670.12 448.99 L670.87 448.83 L671.61 448.67 L672.36 448.51 L673.10 448.34 L673.85 448.18 L674.59 448.01 L675.33 447.85 L674.67 444.15 L673.92 444.25 L673.17 444.35 L672.42 444.45 L671.67 444.55 L670.92 444.64 L670.17 444.74 L669.43 444.83 L668.68 444.92 L667.93 445.01 L667.19 445.11 L666.45 445.23 L665.70 445.34 L664.96 445.45 L664.22 445.56 L663.48 445.66 L662.74 445.76 L662.00 445.86 L661.26 445.95 L660.52 446.04 L659.78 446.12 L659.04 446.23 L658.30 446.32 L657.56 446.42 L656.82 446.51 L656.08 446.59 L655.34 446.67 L654.60 446.75 L653.85 446.82 L653.11 446.89 L652.37 446.95 L651.62 447.01 L650.87 447.06 L650.13 447.11 L649.38 447.19 L648.63 447.26 L647.89 447.33 L647.14 447.40 L646.39 447.47 L645.64 447.53 L644.89 447.59 L644.14 447.64 L643.39 447.69 L642.63 447.74 L641.88 447.78 L641.13 447.82 L640.37 447.86 L639.62 447.91 L638.86 447.98 L638.10 448.04 L637.34 448.10 L636.59 448.15 L635.83 448.20 L635.07 448.25 L634.31 448.30 L633.55 448.35 L632.79 448.39 L632.02 448.43 L631.26 448.46 L630.50 448.50Z"/>
</g>
<text x="0" y="0" transform="translate(690.6 454.2) scale(1.07 1)" font-family="Liberation Serif" font-style="italic" font-weight="bold" font-size="31.5" fill="#fff">S</text>
<text x="706.2" y="454.2" font-family="Liberation Serif" font-style="italic" font-weight="bold" font-size="19.4" fill="#fff" textLength="55.2" lengthAdjust="spacing">DATA</text>
</svg>
</body></html>
